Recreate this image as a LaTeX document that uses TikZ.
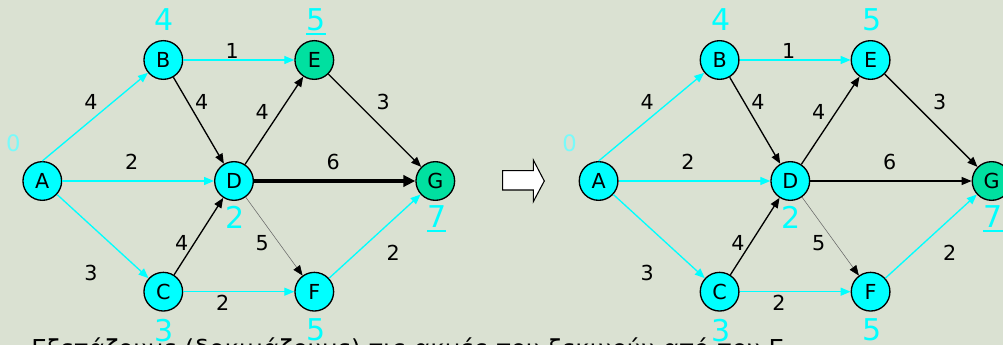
\documentclass[tikz,border=0pt]{standalone}
\usepackage{fontspec}
\setmainfont{DejaVu Sans}
\usetikzlibrary{arrows.meta}
\definecolor{sfondo}{RGB}{218,225,210}
\definecolor{ciano}{RGB}{0,255,255}
\definecolor{verde}{RGB}{0,224,160}
\definecolor{cianochiaro}{RGB}{120,250,250}
\newcommand{\sottolinea}[1]{\setbox0\hbox{#1}\rlap{\rule[-3pt]{\wd0}{1.5pt}}\box0}

\begin{document}
\begin{tikzpicture}[x=0.75pt, y=-0.75pt,
  nodo/.style={circle, draw, line width=1pt, fill=ciano, minimum size=29pt, inner sep=0pt, font=\fontsize{15.5}{18}\selectfont},
  peso/.style={inner sep=0pt, font=\fontsize{15.5}{18}\selectfont},
  costo/.style={text=ciano, anchor=base, inner sep=0pt, font=\fontsize{22.5}{26}\selectfont},
  arcociano/.style={ciano, line width=1pt, -{Triangle[length=7.5pt,width=6pt]}},
  arconero/.style={black, line width=1pt, -{Triangle[length=7.5pt,width=6pt]}}]
 \useasboundingbox (0,0) rectangle (1003,345);
 \clip (0,0) rectangle (1003,345);
 \fill[sfondo] (0,0) rectangle (1003,345);
 % i due grafi
 \foreach \g/\dx/\ecol/\lw/\tl/\tw/\eu in {l/0/verde/3pt/9pt/8.5pt/\sottolinea, r/556.3/ciano/1pt/7.5pt/6pt/\relax}{
 \begin{scope}[shift={(\dx,0)}]
  \node[nodo] (\g A) at (42.3,181) {A};
  \node[nodo] (\g B) at (163.3,60) {B};
  \node[nodo] (\g C) at (163.3,291.7) {C};
  \node[nodo] (\g D) at (234,181) {D};
  \node[nodo, fill=\ecol] (\g E) at (314.3,60) {E};
  \node[nodo] (\g F) at (314.3,291.7) {F};
  \node[nodo, fill=verde] (\g G) at (435.3,181) {G};
  \draw[arcociano] (\g A.north) -- (\g B);
  \draw[arcociano] (\g A) -- (\g D);
  \draw[arcociano] (\g A) -- (\g C);
  \draw[arcociano] (\g B) -- (\g E);
  \draw[arconero] (\g B) -- (\g D);
  \draw[arconero] (\g C) -- (\g D);
  \draw[arcociano] (\g C) -- (\g F);
  \draw[arconero] (\g D) -- (\g E);
  \draw[black, line width=\lw, -{Triangle[length=\tl,width=\tw]}] (\g D) -- (\g G);
  \draw[black!60, line width=0.4pt, -{Triangle[length=7.5pt,width=6pt,color=black]}] (\g D) -- (\g F);
  \draw[arconero] (\g E) -- (\g G);
  \draw[arcociano] (\g F) -- (\g G);
  % pesi
  \node[peso] (\g wab) at (91,101.7) {4};
  \node[peso] (\g wbe) at (232.3,50.7) {1};
  \node[peso] (\g wbd) at (201.7,101.7) {4};
  \node[peso] (\g wde) at (262.3,111.7) {4};
  \node[peso] (\g weg) at (383.3,101.7) {3};
  \node[peso] (\g wad) at (131.7,161.7) {2};
  \node[peso] (\g wdg) at (333.3,161.7) {6};
  \node[peso] (\g wac) at (91,272.7) {3};
  \node[peso] (\g wcd) at (181.7,242.7) {4};
  \node[peso] (\g wdf) at (262.3,243.3) {5};
  \node[peso] (\g wfg) at (393.3,252.7) {2};
  \node[peso] (\g wcf) at (222.7,302.7) {2};
  % costi
  \node[costo, text=cianochiaro, font=\fontsize{17}{20}\selectfont] (\g ca) at (13.3,152) {0};
  \node[costo] (\g cb) at (164.3,31) {4};
  \node[costo] (\g ce) at (316,31) {\eu{5}};
  \node[costo] (\g cd) at (235,228.3) {2};
  \node[costo] (\g cg) at (436.7,228) {\sottolinea{7}};
  \node[costo] (\g cc) at (164.3,341.7) {3};
  \node[costo] (\g cf) at (316,340) {5};
 \end{scope}}
 % freccia tra i grafi
 \draw[fill=white, line width=0.8pt] (502.7,170.7) -- (533.3,170.7) -- (533.3,160) -- (544.3,181)
   -- (533.3,201.7) -- (533.3,190) -- (502.7,190) -- cycle;
 % testo tagliato in basso
 \node[anchor=base west, inner sep=0pt, font=\fontsize{18.5}{22}\selectfont] (testo) at (31,357.5)
   {Εξετάζουμε (δοκιμάζουμε) τις ακμές που ξεκινούν από τον Ε};
\end{tikzpicture}
\end{document}
